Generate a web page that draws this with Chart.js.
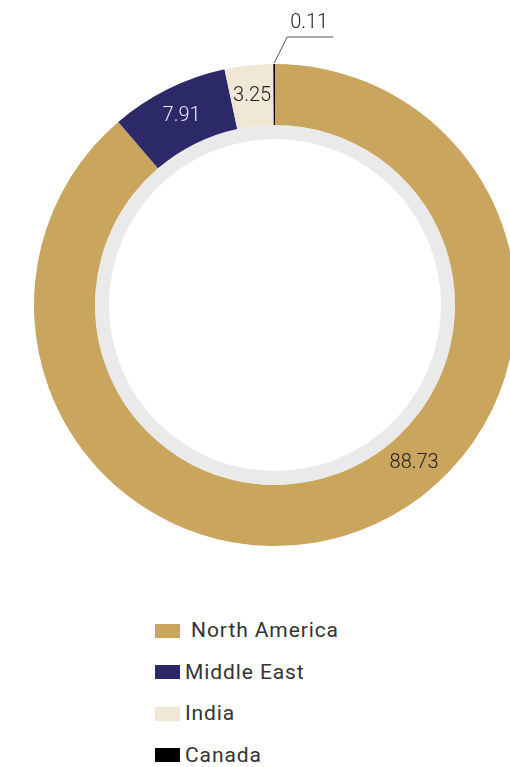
<!DOCTYPE html>
<html>
<head>
<meta charset="utf-8">
<script src="https://cdn.jsdelivr.net/npm/chart.js@4/dist/chart.umd.min.js"></script>
<style>
  html, body { margin: 0; padding: 0; background: #fff; width: 510px; height: 767px; overflow: hidden; }
  #wrap { position: absolute; left: 0; top: 0; width: 550px; height: 610px; }
  #legend { position: absolute; left: 155px; top: 610px; font-family: Roboto, sans-serif; font-size: 21px; letter-spacing: 0.9px; color: #333; }
  .item { height: 41.5px; display: flex; align-items: center; }
  .box { width: 25px; height: 14px; margin-right: 5px; flex: none; }
  .txt { white-space: pre; line-height: 21px; }
</style>
</head>
<body>
<div id="wrap"><canvas id="c"></canvas></div>
<div id="legend"></div>
<script>
const categories = [" North America", "Middle East", "India", "Canada"];
const values = [88.73, 7.91, 3.25, 0.11];
const colors = ["#C9A55D", "#2B2968", "#F1E7D6", "#000000"];
const labelColors = ["#222222", "#ECECF4", "#222222", "#222222"];
const labelFractions = [0.434, 0.5, 0.5, 0.5];
const outsideLabel = [false, false, false, true];

const labelPlugin = {
  id: 'sliceLabels',
  afterDatasetsDraw(chart) {
    const ctx = chart.ctx;
    const meta = chart.getDatasetMeta(0);
    ctx.save();
    ctx.font = '300 20px Roboto, sans-serif';
    ctx.textAlign = 'center';
    ctx.textBaseline = 'middle';
    meta.data.forEach((arc, i) => {
      const p = arc.getProps(['x','y','startAngle','endAngle','innerRadius','outerRadius'], true);
      const a = p.startAngle + (p.endAngle - p.startAngle) * labelFractions[i];
      const txt = values[i].toFixed(2);
      if (!outsideLabel[i]) {
        const r = (p.innerRadius + p.outerRadius) / 2;
        ctx.fillStyle = labelColors[i];
        ctx.fillText(txt, p.x + Math.cos(a) * r, p.y + Math.sin(a) * r);
      } else {
        const sx = p.x + Math.cos(a) * p.outerRadius;
        const sy = p.y + Math.sin(a) * (p.outerRadius + 1);
        const ex = sx + 13, ey = sy - 26;
        const hx = ex + 46;
        ctx.strokeStyle = '#555';
        ctx.lineWidth = 1;
        ctx.beginPath();
        ctx.moveTo(sx, sy);
        ctx.lineTo(ex, ey);
        ctx.lineTo(hx, ey);
        ctx.stroke();
        ctx.fillStyle = labelColors[i];
        ctx.fillText(txt, (ex + hx) / 2 - 1, ey - 14);
      }
    });
    ctx.restore();
  }
};

new Chart(document.getElementById('c'), {
  type: 'doughnut',
  data: {
    labels: categories,
    datasets: [
      { data: values, backgroundColor: colors, borderWidth: 0, hoverOffset: 0, weight: 61 },
      { data: [100], backgroundColor: ['#EAEAEA'], borderWidth: 0, hoverOffset: 0, weight: 14 }
    ]
  },
  options: {
    responsive: true,
    maintainAspectRatio: false,
    animation: false,
    events: [],
    cutout: '68.9%',
    layout: { padding: { left: 34, right: 34, top: 64, bottom: 64 } },
    plugins: { legend: { display: false }, tooltip: { enabled: false } }
  },
  plugins: [labelPlugin]
});

const legend = document.getElementById('legend');
categories.forEach((c, i) => {
  const row = document.createElement('div');
  row.className = 'item';
  const b = document.createElement('span');
  b.className = 'box';
  b.style.background = colors[i];
  const t = document.createElement('span');
  t.className = 'txt';
  t.textContent = c;
  row.appendChild(b);
  row.appendChild(t);
  legend.appendChild(row);
});
</script>
</body>
</html>
